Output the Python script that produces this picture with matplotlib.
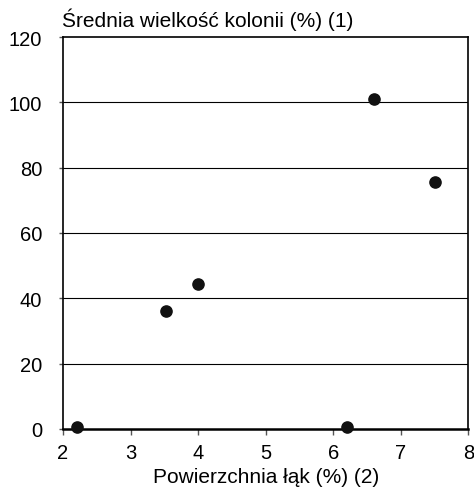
import matplotlib
matplotlib.use("Agg")
import matplotlib.pyplot as plt

plt.rcParams["font.family"] = ["Liberation Sans", "DejaVu Sans"]

# data
meadow_area = [2.2, 3.52, 4.0, 6.2, 6.6, 7.5]
colony_size = [0.5, 36, 44.5, 0.5, 101, 75.7]

fig = plt.figure(figsize=(4.74, 4.89), dpi=100)
ax = fig.add_axes([0.133, 0.121, 0.855, 0.801])

for y in range(20, 120, 20):
    ax.axhline(y, color="black", lw=0.8, zorder=1)

ax.scatter(meadow_area, colony_size, s=65, color="#111111", zorder=3, clip_on=False)

ax.set_xlim(2, 8)
ax.set_ylim(0, 120)
ax.set_xticks(range(2, 9))
ax.set_yticks(range(0, 121, 20))
ax.tick_params(axis="both", labelsize=14.5, width=1, direction="out", color="#555555")
ax.tick_params(axis="x", length=4, pad=6)
ax.tick_params(axis="y", length=3, pad=12)
for s in ax.spines.values():
    s.set_linewidth(1.2)
ax.spines["bottom"].set_linewidth(1.8)

ax.set_xlabel("Powierzchnia łąk (%) (2)", fontsize=15, labelpad=4)
fig.text(0.131, 0.959, "Średnia wielkość kolonii (%) (1)", fontsize=15,
         ha="left", va="center")

fig.savefig("out.png", dpi=100)
